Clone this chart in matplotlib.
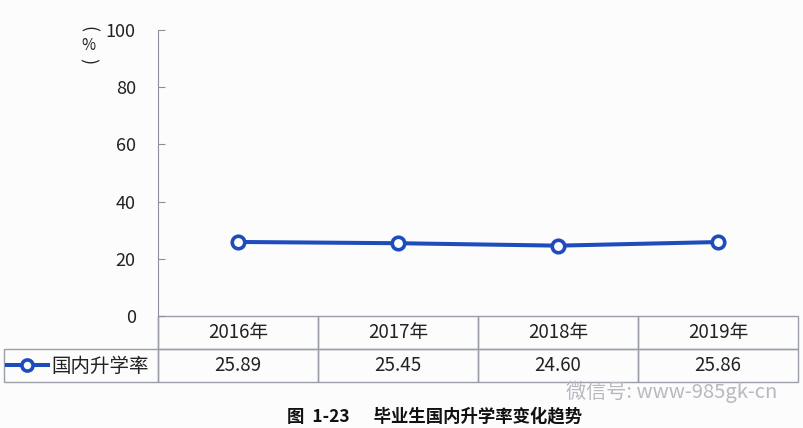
import matplotlib
matplotlib.use("Agg")
import matplotlib.pyplot as plt
from matplotlib.lines import Line2D

plt.rcParams['font.family'] = ['Noto Sans CJK SC', 'DejaVu Sans']

years = ["2016年", "2017年", "2018年", "2019年"]
series_name = "国内升学率"
values = [25.89, 25.45, 24.60, 25.86]
value_labels = ["25.89", "25.45", "24.60", "25.86"]
yticks = [0, 20, 40, 60, 80, 100]

W, H = 804, 428
fig = plt.figure(figsize=(W / 100, H / 100), dpi=100, facecolor="#fcfcfd")
ax = fig.add_axes([158 / W, 1 - 316 / H, 640 / W, 286 / H])
ax.set_facecolor("#fcfcfd")

blue = "#1d4cbd"
x = list(range(len(years)))
ax.plot(x, values, color=blue, lw=2.9, marker="o", ms=9, mfc="white",
        mec=blue, mew=2.6, zorder=3)

ax.set_xlim(-0.5, len(years) - 0.5)
ax.set_ylim(0, 100)
ax.set_yticks(yticks)
ax.set_yticklabels([str(v) for v in yticks], fontsize=13, color="#222222")
ax.tick_params(axis="y", direction="in", length=5, color="#8a8f99", pad=16)
ax.set_xticks([])
for s in ["top", "right"]:
    ax.spines[s].set_visible(False)
ax.spines["left"].set_color("#8a8f99")
ax.spines["bottom"].set_visible(False)

# y-axis unit label (vertical)
fig.text(88 / W, 1 - 29 / H, "(", rotation=-90, ha="center", va="center", fontsize=13, color="#222222")
fig.text(88 / W, 1 - 46 / H, "%", ha="center", va="center", fontsize=11, color="#222222")
fig.text(88 / W, 1 - 61 / H, ")", rotation=-90, ha="center", va="center", fontsize=13, color="#222222")

# data table
lab_w = 154 / 640
cell_text = [[""] + years, [""] + value_labels]
tab = ax.table(cellText=cell_text, colWidths=[lab_w] + [0.25] * len(years),
               cellLoc="center", bbox=[-lab_w, -66 / 286, 1 + lab_w, 66 / 286])
tab.auto_set_font_size(False)
for (r, c), cell in tab.get_celld().items():
    cell.set_edgecolor("#9a9ea6")
    cell.set_linewidth(1.0)
    cell.set_facecolor("none")
    cell.get_text().set_fontsize(13.5)
    cell.get_text().set_color("#222222")
    if r == 0 and c == 0:
        cell.visible_edges = "R"

# legend in row label cell
handle = Line2D([], [], color=blue, lw=2.9, marker="o", ms=8, mfc="white", mec=blue, mew=2.6)
fig.legend([handle], [series_name], loc="center left",
           bbox_to_anchor=(3 / W, 1 - 366 / H), frameon=False, fontsize=14,
           handlelength=2.1, handletextpad=0.2, borderaxespad=0, borderpad=0.2,
           labelcolor="#222222")

# caption
fig.text(287 / W, 1 - 416 / H, "图  1-23      毕业生国内升学率变化趋势", ha="left", va="center",
         fontsize=12.5, fontweight="bold", color="#111111")

# watermark
fig.text(566 / W, 1 - 392 / H, "微信号: www-985gk-cn", ha="left", va="center",
         fontsize=14.5, color="#b8b8c0")

fig.savefig("out.png", dpi=100, facecolor=fig.get_facecolor())
